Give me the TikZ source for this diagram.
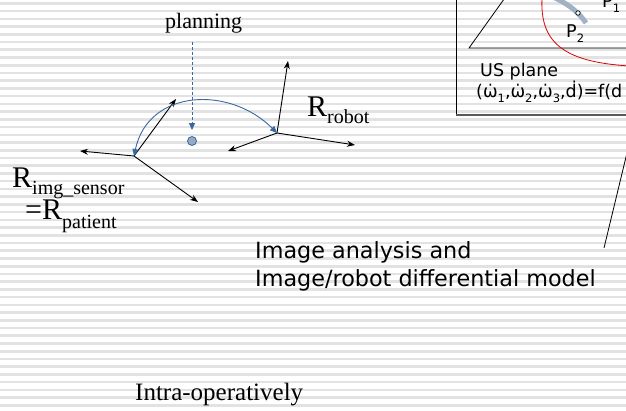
\documentclass[tikz,border=0pt]{standalone}
\usepackage{fontspec}
\setmainfont{Liberation Serif}
\newfontfamily\slidesans{DejaVu Sans}
\usetikzlibrary{arrows.meta}

\definecolor{arcblue}{RGB}{58,104,160}
\definecolor{dotfill}{RGB}{150,170,200}
\definecolor{probegray}{RGB}{160,178,196}
\definecolor{stripe}{RGB}{226,226,226}

\tikzset{
  axis/.style={-{Stealth[length=8pt,width=6pt]}, line width=0.9pt},
  bluearrow/.style={arcblue, line width=0.9pt, -{Triangle[length=7pt,width=6pt]}},
  txt/.style={anchor=base west, inner sep=0pt},
  serif/.style={txt, font=\fontsize{22}{26}\selectfont},
  frame label/.style={txt, font=\fontsize{30}{32}\selectfont},
  sans/.style={txt, font=\slidesans\fontsize{17.5}{20}\selectfont},
  big sans/.style={txt, font=\slidesans\fontsize{22.3}{26}\selectfont}
}
\newcommand{\sublow}[2]{\raisebox{-#1}{\fontsize{20}{20}\selectfont #2}}
\newcommand{\ptsub}[1]{\raisebox{-5pt}{\fontsize{11.5}{11.5}\selectfont #1}}

\begin{document}
\begin{tikzpicture}[x=1pt, y=-1pt]
\useasboundingbox (0,0) rectangle (626,411);
\clip (0,0) rectangle (626,411);

% ruled background
\foreach \k in {0,...,53}
  \fill[stripe] (0,{2.1+7.73*\k}) rectangle (626,{4.7+7.73*\k});

% patient / image frame
\coordinate (img) at (134,156);
\coordinate (img x) at (80,151);
\coordinate (img y) at (176,99);
\coordinate (img z) at (198,202);
\draw[axis] (img) -- (img x);
\draw[axis] (img) -- (img y);
\draw[axis] (img) -- (img z);

% robot frame
\coordinate (rob) at (277,133);
\coordinate (rob x) at (355,145);
\coordinate (rob y) at (288,61);
\coordinate (rob z) at (228,151);
\draw[axis] (rob) -- (rob x);
\draw[axis] (rob) -- (rob y);
\draw[axis] (rob) -- (rob z);

% transform between the frames
\draw[bluearrow, {Triangle[length=7pt,width=6pt]}-{Triangle[length=7pt,width=6pt]}]
  (img) to[out=78, in=135, looseness=1.2] (rob);

% planned target
\node[serif] (plan) at (165,29) {planning};
\coordinate (plan foot) at (192,42);
\node[circle, draw=arcblue, fill=dotfill, line width=0.8pt, inner sep=0pt, minimum size=9pt] (goal) at (192,141) {};
\draw[bluearrow, dash pattern=on 3pt off 2pt, shorten >=6pt] (plan foot) -- (goal);

% frame names
\node[frame label] (rrobot) at (307,117) {R\sublow{7pt}{robot}};
\node[frame label] (rimg) at (12,188) {R\sublow{7pt}{img\_sensor}};
\node[frame label] (rpat) at (25,220) {=R\sublow{9pt}{patient}};

% ultrasound inset
\draw[line width=0.9pt] (456,-5) -- (456,115);
\draw[black!65, line width=2pt] (455.5,115) -- (630,115);
\coordinate (tri a) at (469,48);
\coordinate (tri b) at (507,-5);
\coordinate (tri c) at (630,48);
\draw[line width=0.8pt] (tri b) -- (tri a) -- (tri c);
\draw[red!85!black, line width=0.8pt] (542,-2) .. controls (540,40) and (560,62) .. (630,66);
\draw[probegray, line width=5pt] (553,-3) .. controls (566,3) and (577,10) .. (586,23);
\node[circle, draw, fill=white, line width=0.7pt, inner sep=0pt, minimum size=4.5pt] (needle) at (578,13) {};
\node[sans] (p1) at (602,8) {P\ptsub{1}};
\node[sans] (p2) at (566,38) {P\ptsub{2}};
\node[sans] (usplane) at (480,77) {US plane};
\node[sans] (model) at (476,98)
  {(ω̇\ptsub{1},ω̇\ptsub{2},ω̇\ptsub{3},ḋ)=f(d};

% analysis caption and its lead line
\node[big sans] (anal1) at (255,259) {Image analysis and};
\node[big sans] (anal2) at (255,287) {Image/robot differential model};
\coordinate (lead a) at (604,248);
\coordinate (lead b) at (640,99);
\draw[line width=0.8pt] (lead a) -- (lead b);

\node[serif, font=\fontsize{25}{30}\selectfont] (intra) at (135,400) {Intra-operatively};
\end{tikzpicture}
\end{document}
